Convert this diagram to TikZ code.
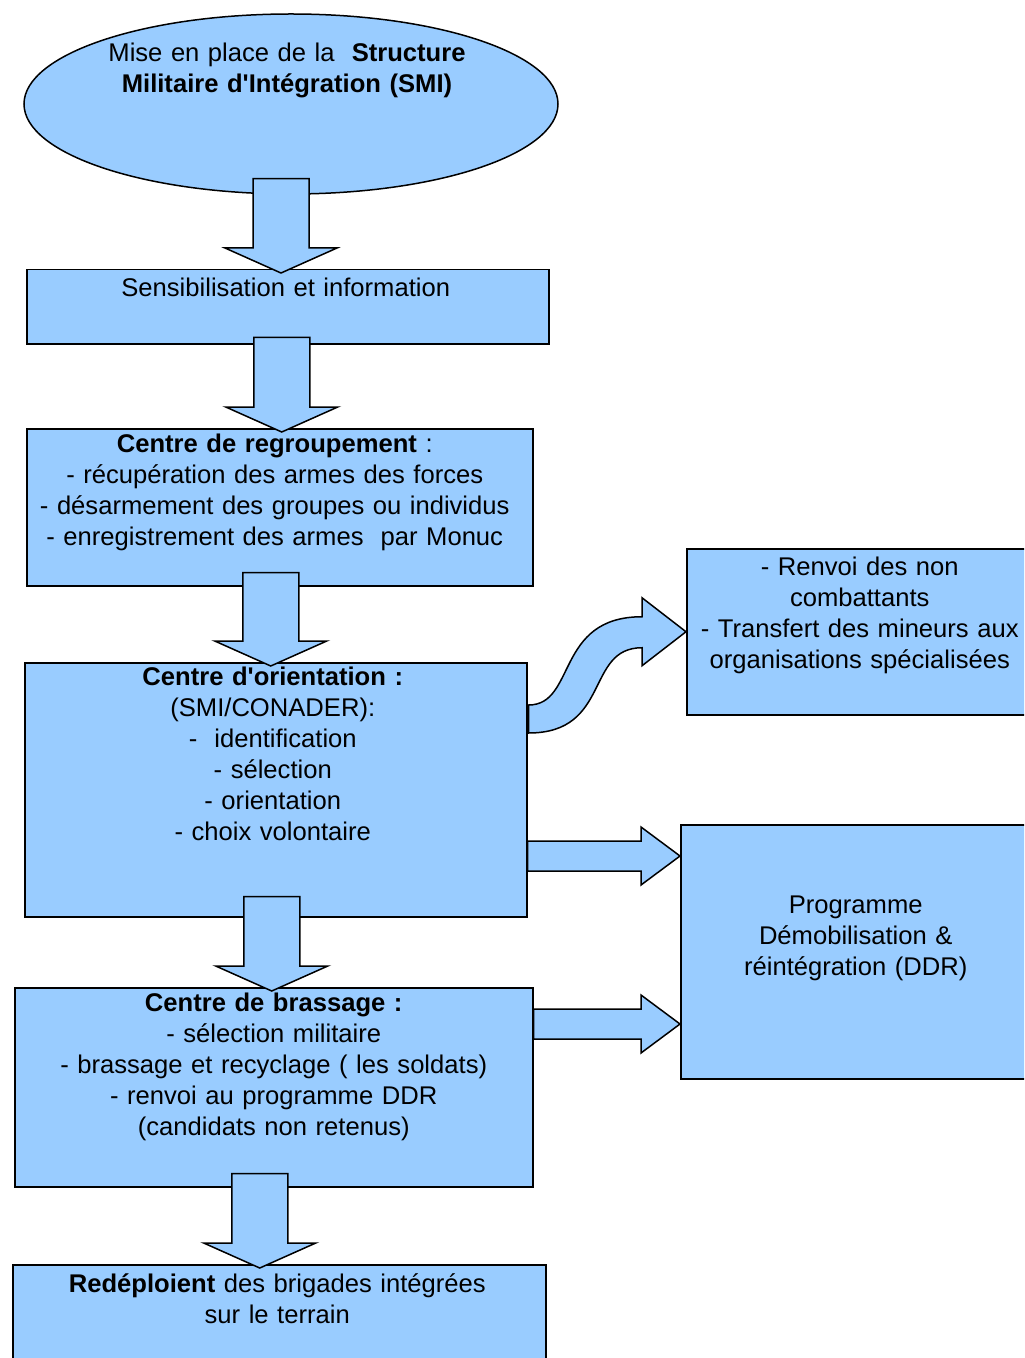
\documentclass[tikz,border=0pt]{standalone}
\usepackage{fontspec}
\setmainfont{Liberation Sans}
\usepackage{tikz}
\usetikzlibrary{shapes.geometric,calc}

\definecolor{boxblue}{HTML}{99CCFF}

% big block arrow going down, from one node into the next
\newcommand{\downblock}[4]{%
    \coordinate (dbtop) at ($(#1.south)+(#3,-#4)$);
    \coordinate (dbtip) at ($(#2.north -| dbtop)+(0,4)$);
    \draw[bigarrow] ($(dbtop)+(-28,0)$) |- ($(dbtip)+(-56,-25)$) -- (dbtip)
        -- ++(56,-25) -- ++(-28,0) |- ($(dbtop)+(28,0)$) -- cycle;}
% big block arrow going right
\newcommand{\rightblock}[3]{%
    \coordinate (rbtail) at ($(#1.north east)+(0,#3)$);
    \coordinate (rbtip) at (#2.west |- rbtail);
    \draw[bigarrow] ($(rbtail)+(0,-15)$) -| ($(rbtip)+(-39,-29)$) -- (rbtip)
        -- ++(-39,29) -- ++(0,-14) -| ($(rbtail)+(0,15)$) -- cycle;}

\begin{document}
\begin{tikzpicture}[x=0.5pt,y=-0.5pt]
    \tikzstyle{box}=[rectangle,draw=black,fill=boxblue,line width=0.75pt,inner sep=0pt,anchor=north west]
    \tikzstyle{bigarrow}=[draw=black,fill=boxblue,line width=0.75pt,line join=miter]
    \tikzstyle{txt}=[anchor=base,text width=300pt,align=center,inner sep=0pt,
        font=\fontsize{12.8}{15.5}\selectfont]

    \useasboundingbox (0,0) rectangle (1024,1358);
    \clip (0,0) rectangle (1024,1358);

    % Draw the main column
    \node[ellipse,draw=black,fill=boxblue,line width=0.75pt,inner sep=0pt,
        minimum width=267pt,minimum height=90pt] (smi) at (291,104) {};
    \node[box,minimum width=261pt,minimum height=37pt] (sens) at (26,269) {};
    \node[box,minimum width=253pt,minimum height=78.5pt] (regroup) at (26,428) {};
    \node[box,minimum width=251pt,minimum height=127pt] (orient) at (24,662) {};
    \node[box,minimum width=259pt,minimum height=99.5pt] (brassage) at (14,987) {};
    \node[box,minimum width=266.5pt,minimum height=55pt] (redeploi) at (12,1264) {};

    % the two boxes on the right
    \node[box,minimum width=173pt,minimum height=83pt] (renvoi) at (686,548) {};
    \node[box,minimum width=176pt,minimum height=127pt] (ddr) at (680,824) {};

    % Arrows
    \downblock{smi}{sens}{-10}{16}
    \downblock{sens}{regroup}{-6}{7}
    \downblock{regroup}{orient}{-9}{14}
    \downblock{orient}{brassage}{-4}{21}
    \downblock{brassage}{redeploi}{-14}{14}
    \rightblock{orient}{ddr}{194}
    \rightblock{brassage}{ddr}{37}
    \draw[bigarrow] ($(orient.north east)+(1,43)$) .. controls +(48,0) and +(-87,0) .. ($(renvoi.west)+(-44,-15)$)
        -- ++(0,-19) -- (renvoi.west) -- ++(-44,34) -- ++(0,-18)
        .. controls +(-57,0) and +(83,0) .. ($(orient.north east)+(1,71)$) -- cycle;

    % Texts
    \node[txt] (smi-t) at ($(smi.center)+(-4,-42)$)
        {Mise en place de la\ \ \textbf{Structure}\\ \textbf{Militaire d\textquotesingle Intégration (SMI)}};
    \node[txt] (sens-t) at ($(sens.north)+(-2,28)$) {Sensibilisation et information};
    \node[txt] (regroup-t) at ($(regroup.north)+(-5,24)$)
        {\textbf{Centre de regroupement} :\\ - récupération des armes des forces\\
         - désarmement des groupes ou individus\\ - enregistrement des armes\ \ par Monuc};
    \node[txt] (orient-t) at ($(orient.north)+(-3,23)$)
        {\textbf{Centre d\textquotesingle orientation :}\\ (SMI/CONADER):\\ -\ \ identification\\
         - sélection\\ - orientation\\ - choix volontaire};
    \node[txt] (brassage-t) at ($(brassage.north)+(0,24)$)
        {\textbf{Centre de brassage :}\\ - sélection militaire\\
         - brassage et recyclage ( les soldats)\\ - renvoi au programme DDR\\
         (candidats non retenus)};
    \node[txt] (redeploi-t) at ($(redeploi.north)+(-2,28)$)
        {\textbf{Redéploient} des brigades intégrées\\ sur le terrain};
    \node[txt] (renvoi-t) at ($(renvoi.north)+(0,27)$)
        {- Renvoi des non\\ combattants\\ - Transfert des mineurs aux\\ organisations spécialisées};
    \node[txt] (ddr-t) at ($(ddr.north)+(-1,89)$)
        {Programme\\ Démobilisation \&\\ réintégration (DDR)};
\end{tikzpicture}
\end{document}
